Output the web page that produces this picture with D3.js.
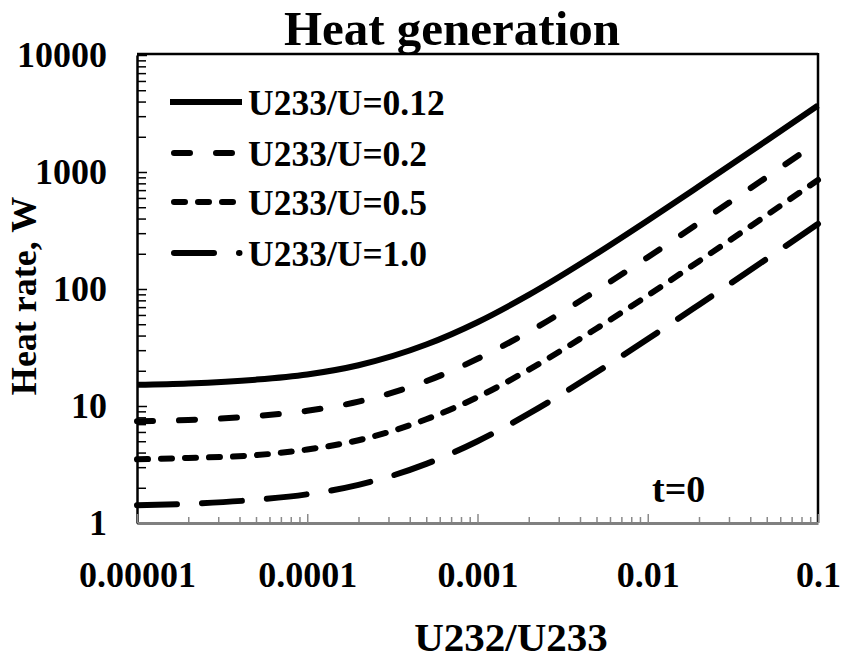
<!DOCTYPE html>
<html>
  <head>
    <meta charset="utf-8">
    <title>Heat generation</title>
    <script src="https://d3js.org/d3.v7.min.js"></script>
    <style>
      body { margin: 0; background: #fff; }
      svg text { font-family: "Liberation Serif", serif; font-weight: bold; fill: #000; }
    </style>
  </head>
  <body>
    <div id="chart"></div>
    <script>
      // U232/U233 ratio read at a few points per decade
      var ratios = [0.00001, 0.00002, 0.00005, 0.0001, 0.0002, 0.0005, 0.001, 0.002, 0.005, 0.01, 0.02, 0.05, 0.1];

      // Heat rate (W) for each U233/U value
      var heat012 = [15.2, 15.6, 16.8, 18.6, 22.3, 33.5, 52, 89, 200, 385, 755, 1860, 3700];
      var heat02  = [7.4, 7.6, 8.2, 9.1, 10.9, 16.3, 25.3, 43, 97, 187, 367, 905, 1810];
      var heat05  = [3.5, 3.6, 3.8, 4.25, 5.1, 7.7, 11.9, 20.4, 46, 88, 173, 428, 855];
      var heat10  = [1.42, 1.46, 1.58, 1.76, 2.12, 3.2, 5.0, 8.6, 19.4, 37.4, 73.4, 181, 360];

      var seriesNames = ["U233/U=0.12", "U233/U=0.2", "U233/U=0.5", "U233/U=1.0"];
      var xTicks = [0.00001, 0.0001, 0.001, 0.01, 0.1];
      var xTickLabels = ["0.00001", "0.0001", "0.001", "0.01", "0.1"];
      var yTicks = [1, 10, 100, 1000, 10000];
      var yTickLabels = ["1", "10", "100", "1000", "10000"];

      var allSeries = [heat012, heat02, heat05, heat10];
      var dashes = [null, "16,26", "11,13", "40,25"];

      var width = 841, height = 660;
      var plotL = 137, plotR = 818, plotT = 55, plotB = 523;

      var svg = d3.select("#chart").append("svg")
        .attr("width", width)
        .attr("height", height);

      var x = d3.scaleLog().domain([0.00001, 0.1]).range([plotL, plotR]);
      var y = d3.scaleLog().domain([1, 10000]).range([plotB, plotT]);

      // minor ticks for both log axes
      var xMinor = [], yMinor = [];
      xTicks.slice(0, -1).forEach(function(d) {
        for (var k = 2; k < 10; k++) xMinor.push(d * k);
      });
      yTicks.slice(0, -1).forEach(function(d) {
        for (var k = 2; k < 10; k++) yMinor.push(d * k);
      });

      // frame: top and right border
      svg.append("line")
        .attr("x1", plotL).attr("x2", plotR).attr("y1", plotT - 1).attr("y2", plotT - 1)
        .attr("stroke", "#000").attr("stroke-width", 2.5);
      svg.append("line")
        .attr("x1", plotR).attr("x2", plotR).attr("y1", plotT - 2).attr("y2", plotB)
        .attr("stroke", "#000").attr("stroke-width", 2.5);

      // y axis
      var yAxisMinor = svg.append("g")
        .attr("transform", "translate(" + plotL + ",0)")
        .call(d3.axisLeft(y).tickValues(yMinor).tickSize(-9).tickSizeOuter(0).tickFormat(""));
      yAxisMinor.select(".domain").remove();
      yAxisMinor.selectAll("line").attr("stroke", "#000").attr("stroke-width", 1.5);

      var yAxis = svg.append("g")
        .attr("transform", "translate(" + plotL + ",0)")
        .call(d3.axisLeft(y).tickValues(yTicks).tickSize(-10).tickSizeOuter(0).tickPadding(30)
          .tickFormat(function(d, i) { return yTickLabels[i]; }));
      yAxis.select(".domain").attr("stroke", "#000").attr("stroke-width", 2.5);
      yAxis.selectAll("line").attr("stroke", "#000").attr("stroke-width", 1.5);
      yAxis.selectAll("text").style("font-size", "36px");

      // x axis (grey)
      var xAxisMinor = svg.append("g")
        .attr("transform", "translate(0," + plotB + ")")
        .call(d3.axisBottom(x).tickValues(xMinor).tickSize(-6).tickSizeOuter(0).tickFormat(""));
      xAxisMinor.select(".domain").remove();
      xAxisMinor.selectAll("line").attr("stroke", "#8a8a8a").attr("stroke-width", 1.5);

      var xAxis = svg.append("g")
        .attr("transform", "translate(0," + plotB + ")")
        .call(d3.axisBottom(x).tickValues(xTicks).tickSize(-9).tickSizeOuter(0).tickPadding(38)
          .tickFormat(function(d, i) { return xTickLabels[i]; }));
      xAxis.select(".domain").attr("stroke", "#808080").attr("stroke-width", 3);
      xAxis.selectAll("line").attr("stroke", "#8a8a8a").attr("stroke-width", 1.5);
      xAxis.selectAll("text").style("font-size", "36px");

      // curves
      var line = d3.line()
        .x(function(d) { return x(d[0]); })
        .y(function(d) { return y(d[1]); })
        .curve(d3.curveMonotoneX);

      allSeries.forEach(function(vals, i) {
        svg.append("path")
          .datum(ratios.map(function(r, j) { return [r, vals[j]]; }))
          .attr("d", line)
          .attr("fill", "none")
          .attr("stroke", "#000")
          .attr("stroke-width", 6)
          .attr("stroke-linecap", dashes[i] ? "round" : "butt")
          .attr("stroke-dasharray", dashes[i]);
      });

      // legend
      var legendY = [102, 153, 202, 253];
      var legendEnd = [242, 236, 235, 239.5];
      seriesNames.forEach(function(name, i) {
        svg.append("line")
          .attr("x1", dashes[i] ? 174 : 170).attr("x2", legendEnd[i])
          .attr("y1", legendY[i]).attr("y2", legendY[i])
          .attr("stroke", "#000")
          .attr("stroke-width", 6)
          .attr("stroke-linecap", dashes[i] ? "round" : "butt")
          .attr("stroke-dasharray", dashes[i]);
        svg.append("text")
          .attr("x", 248).attr("y", legendY[i] + 13)
          .style("font-size", "35.5px")
          .text(name);
      });

      // title and labels
      svg.append("text")
        .attr("x", 452).attr("y", 45)
        .attr("text-anchor", "middle")
        .style("font-size", "49px")
        .text("Heat generation");

      svg.append("text")
        .attr("transform", "translate(36,296) rotate(-90)")
        .attr("text-anchor", "middle")
        .style("font-size", "36px")
        .text("Heat rate, W");

      svg.append("text")
        .attr("x", 511).attr("y", 651)
        .attr("text-anchor", "middle")
        .style("font-size", "41px")
        .text("U232/U233");

      svg.append("text")
        .attr("x", 652).attr("y", 502)
        .style("font-size", "38px")
        .text("t=0");
    </script>
  </body>
</html>
